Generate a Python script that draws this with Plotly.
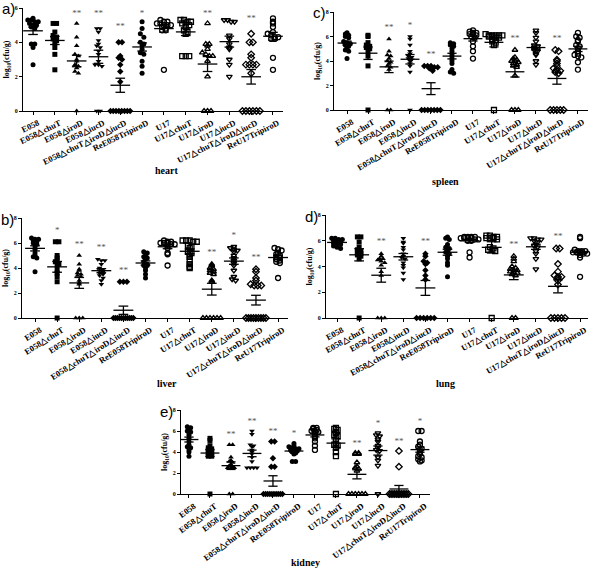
import numpy as np
import plotly.graph_objects as go

groups = ["E058", "E058△chuT", "E058△iroD", "E058△iucD", "E058△chuT△iroD△iucD",
          "ReE058TripiroD", "U17", "U17△chuT", "U17△iroD", "U17△iucD",
          "U17△chuT△iroD△iucD", "ReU17TripiroD"]

symbols = ["circle", "square", "triangle-up", "triangle-down", "diamond", "circle",
           "circle-open", "square-open", "triangle-up-open", "triangle-down-open",
           "diamond-open", "circle-open"]

heart = [
    [5.4, 5.3, 5.3, 5.2, 5.2, 5.1, 5.0, 5.0, 4.9, 4.8, 3.9, 3.9, 3.7, 2.7],
    [5.1, 5.1, 4.6, 4.4, 4.3, 4.2, 4.1, 4.0, 3.7, 3.3, 2.4],
    [5.1, 4.3, 3.8, 3.3, 3.2, 3.0, 2.9, 2.7, 2.6, 2.5, 2.3, 2.2, 0],
    [4.8, 4.8, 4.6, 4.1, 3.9, 3.8, 3.7, 3.5, 3.3, 2.9, 2.7, 2.7, 2.6, 0, 0],
    [4.0, 4.0, 3.2, 3.1, 3.0, 2.7, 2.3, 1.7, 0, 0, 0, 0, 0, 0, 0, 0],
    [5.2, 4.8, 4.5, 4.3, 4.0, 3.9, 3.8, 3.6, 3.4, 3.3, 2.9, 2.6, 2.2],
    [5.3, 5.2, 5.2, 5.1, 5.1, 5.0, 5.0, 5.0, 4.9, 4.8, 4.7, 4.7, 2.4],
    [5.3, 5.3, 5.2, 5.2, 5.1, 5.1, 5.0, 4.9, 4.7, 4.6, 4.5, 3.2, 3.2, 3.2],
    [5.1, 3.9, 3.9, 3.8, 3.6, 3.4, 3.3, 3.2, 3.2, 2.9, 2.0, 0, 0, 0],
    [5.3, 5.3, 5.2, 5.2, 4.4, 4.2, 3.9, 3.7, 3.6, 3.0, 2.7, 2.0],
    [4.5, 4.0, 4.0, 3.3, 3.1, 2.7, 2.7, 2.7, 2.7, 2.2, 0, 0, 0, 0, 0, 0],
    [5.4, 5.2, 5.1, 4.9, 4.6, 4.5, 4.4, 4.3, 4.3, 4.2, 4.2, 3.1, 2.4],
]
heart_stars = ["", "", "**", "**", "**", "*", "", "", "**", "", "**", ""]

liver = [
    [6.4, 6.3, 6.3, 6.2, 6.1, 6.0, 5.9, 5.7, 5.5, 5.2, 5.0, 4.9, 4.8, 3.7],
    [6.1, 6.1, 5.0, 4.8, 4.6, 4.5, 4.3, 4.2, 3.8, 3.6, 3.3, 2.9, 0],
    [5.0, 4.3, 3.9, 3.8, 3.6, 3.5, 3.4, 3.3, 3.0, 2.8, 2.7, 0, 0, 0],
    [4.7, 4.6, 4.6, 4.3, 4.0, 3.9, 3.8, 3.7, 3.6, 3.5, 3.4, 3.2, 3.0, 2.7],
    [2.9, 2.9, 2.9, 0, 0, 0, 0, 0, 0, 0, 0, 0, 0, 0],
    [5.3, 5.2, 5.0, 4.9, 4.8, 4.7, 4.5, 4.3, 4.2, 4.2, 4.0, 3.8, 3.5, 3.2],
    [6.2, 6.1, 6.1, 6.0, 6.0, 6.0, 5.9, 5.9, 5.8, 5.6, 5.2, 5.1, 4.2],
    [6.2, 6.2, 6.2, 6.1, 6.1, 5.8, 5.7, 5.6, 5.3, 5.2, 5.1, 4.9, 4.6, 4.3, 4.1, 4.0],
    [4.3, 4.2, 4.0, 3.9, 3.8, 3.7, 3.6, 3.5, 3.0, 2.9, 0, 0, 0, 0, 0, 0],
    [5.7, 5.6, 5.5, 5.4, 5.3, 5.0, 4.8, 4.6, 4.4, 4.2, 3.8, 3.3, 3.1, 3.0],
    [3.9, 3.7, 3.2, 3.0, 2.7, 2.6, 2.6, 2.6, 0, 0, 0, 0, 0, 0, 0, 0, 0],
    [5.6, 5.5, 5.4, 5.2, 5.1, 5.0, 4.9, 4.8, 4.7, 4.6, 4.5, 4.4, 3.2],
]
liver_stars = ["", "*", "**", "**", "**", "", "", "", "**", "*", "**", ""]

spleen = [
    [6.3, 6.2, 6.1, 6.0, 5.9, 5.6, 5.5, 5.4, 5.3, 5.2, 5.1, 4.9, 4.8, 4.2],
    [6.1, 6.0, 5.5, 5.3, 5.2, 5.1, 5.0, 4.8, 4.4, 3.6, 0],
    [5.8, 4.8, 4.5, 4.4, 4.2, 4.0, 3.9, 3.8, 3.6, 3.5, 3.3, 0, 0],
    [6.0, 5.8, 5.3, 4.8, 4.6, 4.4, 4.3, 4.2, 4.1, 4.0, 3.8, 3.6, 3.1, 0],
    [3.6, 3.6, 3.6, 3.5, 3.5, 3.4, 3.2, 0, 0, 0, 0, 0, 0, 0],
    [5.5, 5.4, 5.3, 5.2, 5.0, 4.8, 4.6, 4.4, 4.2, 4.0, 3.8, 3.3, 3.1, 3.0],
    [6.5, 6.4, 6.3, 6.3, 6.2, 6.2, 6.1, 6.0, 5.9, 5.6, 5.2, 4.8, 4.2],
    [6.2, 6.1, 6.1, 6.1, 6.1, 6.1, 6.0, 6.0, 5.9, 5.9, 5.8, 5.7, 5.6, 5.5, 5.3, 0],
    [4.9, 4.3, 4.2, 4.1, 4.0, 4.0, 3.9, 3.8, 3.7, 3.6, 3.5, 2.8, 0, 0, 0],
    [6.5, 6.3, 5.9, 5.6, 5.3, 5.2, 5.1, 5.0, 4.9, 4.8, 4.6, 4.5, 4.0, 3.7],
    [4.9, 4.8, 4.1, 4.0, 3.8, 3.6, 3.4, 3.3, 3.2, 3.1, 3.0, 0, 0, 0, 0, 0],
    [6.3, 6.0, 5.9, 5.7, 5.6, 5.3, 5.2, 5.0, 4.8, 4.6, 4.5, 4.4, 4.3, 3.9, 3.3],
]
spleen_stars = ["", "", "**", "*", "**", "", "", "", "**", "", "**", ""]

lung = [
    [6.2, 6.2, 6.1, 6.1, 6.0, 6.0, 5.9, 5.8, 5.8, 5.7, 5.6, 5.5, 5.4],
    [6.3, 6.3, 5.9, 5.5, 5.3, 5.2, 5.1, 5.0, 4.9, 4.8, 4.6, 0],
    [5.0, 4.8, 4.6, 4.6, 4.5, 4.4, 4.3, 4.1, 3.6, 3.3, 0, 0, 0],
    [6.2, 5.9, 5.8, 5.5, 5.3, 5.0, 4.8, 4.7, 4.6, 4.3, 4.1, 3.9, 3.5, 3.0],
    [5.0, 4.8, 4.4, 4.3, 4.2, 3.7, 3.3, 3.0, 0, 0, 0, 0, 0, 0],
    [6.3, 6.2, 6.1, 5.7, 5.5, 5.4, 5.2, 5.1, 5.0, 4.8, 4.6, 4.3, 4.1, 3.2],
    [6.3, 6.3, 6.3, 6.3, 6.2, 6.2, 6.2, 6.2, 6.1, 6.1, 6.0, 6.0, 5.1, 4.7],
    [6.4, 6.4, 6.3, 6.3, 6.2, 6.2, 6.2, 6.1, 5.5, 5.4, 5.3, 5.3, 5.2, 0],
    [4.8, 4.6, 4.4, 4.0, 3.9, 3.8, 3.7, 3.7, 3.6, 3.5, 3.5, 3.4, 3.3, 0, 0],
    [6.2, 6.2, 6.1, 6.1, 6.0, 5.9, 5.7, 5.6, 5.5, 5.2, 5.0, 4.6, 3.8],
    [5.4, 5.4, 4.2, 3.6, 3.3, 3.2, 3.2, 3.1, 2.9, 2.6, 0, 0, 0, 0, 0],
    [6.3, 6.2, 5.3, 5.2, 5.2, 5.2, 5.1, 5.1, 5.1, 5.0, 5.0, 4.9, 4.7, 3.2],
]
lung_stars = ["", "", "**", "", "**", "", "", "", "**", "", "**", ""]

kidney = [
    [6.4, 6.3, 6.1, 6.0, 5.9, 5.8, 5.6, 5.3, 5.0, 4.7, 4.5, 4.4, 4.2, 4.0, 3.6],
    [5.3, 5.1, 4.6, 4.4, 4.3, 4.2, 4.1, 4.0, 3.9, 3.8, 3.7, 3.6, 3.6, 0],
    [4.7, 4.7, 3.5, 3.2, 3.1, 3.0, 2.8, 2.7, 2.6, 2.5, 2.5, 2.5, 0, 0],
    [6.0, 5.7, 4.7, 4.6, 4.5, 4.2, 4.0, 3.8, 3.5, 3.1, 2.5, 2.5, 2.5, 2.5],
    [5.0, 5.0, 3.4, 2.6, 2.6, 0, 0, 0, 0, 0, 0, 0, 0, 0, 0],
    [4.8, 4.6, 4.5, 4.4, 4.3, 4.3, 4.2, 4.2, 4.1, 4.0, 3.9, 3.8, 3.1, 3.1],
    [6.3, 6.3, 6.2, 6.1, 6.0, 6.0, 5.9, 5.7, 5.5, 5.3, 5.0, 4.6, 4.2],
    [6.3, 6.2, 6.1, 5.9, 5.8, 5.6, 5.5, 5.2, 4.8, 4.7, 4.6, 4.4, 4.0, 3.6, 0],
    [3.9, 3.9, 3.8, 3.8, 3.0, 2.6, 2.5, 2.4, 2.2, 0, 0, 0, 0, 0, 0],
    [5.8, 5.6, 5.5, 5.2, 5.0, 4.6, 4.4, 4.2, 4.1, 3.5, 3.2, 2.7, 0],
    [4.1, 2.6, 0, 0, 0, 0, 0, 0, 0, 0, 0, 0, 0, 0],
    [6.0, 6.0, 5.0, 4.7, 4.5, 4.3, 4.2, 4.0, 3.8, 3.6, 3.5, 3.3, 3.2, 3.1],
]
kidney_stars = ["", "", "**", "**", "**", "*", "", "", "**", "*", "**", "*"]

# panel: name, letter, data, stars, y max, pixel box (left, right, top, bottom),
#        x range, title y (px), tick label angle
panels = [
    ("heart", "a)", heart, heart_stars, 6, (23, 283, 8, 111), (-0.46, 11.46), 170, -26),
    ("liver", "b)", liver, liver_stars, 8, (22, 288, 218, 318), (-0.59, 11.45), 383, -32),
    ("spleen", "c)", spleen, spleen_stars, 8, (334, 588, 12, 110), (-0.62, 11.48), 181, -31),
    ("lung", "d)", lung, lung_stars, 8, (326, 588, 215, 318), (-0.5, 11.36), 383, -29),
    ("kidney", "e)", kidney, kidney_stars, 8, (181, 430, 410, 494), (-0.38, 11.48), 562, -36),
]

W, H = 600, 572
serif = "Liberation Serif"


def spread(vals, step=0.16, binw=0.22):
    # horizontal offsets so that close values sit side by side
    vals = np.asarray(vals, dtype=float)
    offs = np.zeros(len(vals))
    keys = np.round(vals / binw).astype(int)
    for k in np.unique(keys):
        idx = np.where(keys == k)[0]
        n = len(idx)
        s = min(step, 0.9 / max(n - 1, 1))
        offs[idx] = (np.arange(n) - (n - 1) / 2) * s
    return offs


fig = go.Figure()
layout = {}
annotations = []

for p, (name, letter, data, stars, ymax, box, xr, title_y, angle) in enumerate(panels):
    left, right, top, bottom = box
    xa = "x" if p == 0 else f"x{p + 1}"
    ya = "y" if p == 0 else f"y{p + 1}"
    xkey = "xaxis" if p == 0 else f"xaxis{p + 1}"
    ykey = "yaxis" if p == 0 else f"yaxis{p + 1}"

    for g, vals in enumerate(data):
        vals = np.asarray(vals, dtype=float)
        offs = spread(vals)
        sym = symbols[g]
        is_open = sym.endswith("-open")
        fig.add_trace(go.Scatter(
            x=g + offs, y=vals, xaxis=xa, yaxis=ya, mode="markers",
            marker=dict(symbol=sym, size=5, color="black",
                        line=dict(color="black", width=1.3 if is_open else 0)),
            cliponaxis=False, showlegend=False, hoverinfo="skip"))

        m = vals.mean()
        sem = vals.std(ddof=1) / np.sqrt(len(vals))
        fig.add_trace(go.Scatter(
            x=[g - 0.45, g + 0.45, None, g, g, None, g - 0.22, g + 0.22, None, g - 0.22, g + 0.22],
            y=[m, m, None, m - sem, m + sem, None, m - sem, m - sem, None, m + sem, m + sem],
            xaxis=xa, yaxis=ya, mode="lines", line=dict(color="black", width=1.3),
            cliponaxis=False, showlegend=False, hoverinfo="skip"))

    sx, sy, st = [], [], []
    for g, s in enumerate(stars):
        if s:
            sx.append(g)
            sy.append(min(max(data[g]) + 0.9, ymax - 0.35))
            st.append(s)
    fig.add_trace(go.Scatter(
        x=sx, y=sy, text=st, mode="text", xaxis=xa, yaxis=ya,
        textfont=dict(family=serif, size=9, color="#555555"),
        cliponaxis=False, showlegend=False, hoverinfo="skip"))

    layout[xkey] = dict(
        domain=[left / W, right / W], anchor=ya, range=list(xr), automargin=False,
        tickmode="array", tickvals=list(range(len(groups))), ticktext=groups,
        tickangle=angle, ticklabelshift=5,
        tickfont=dict(family=serif, size=8.5, color="black", weight="bold"),
        showline=True, linecolor="black", linewidth=1, ticks="outside", ticklen=3,
        tickcolor="black", showgrid=False, zeroline=False, fixedrange=True)
    layout[ykey] = dict(
        domain=[1 - bottom / H, 1 - top / H], anchor=xa, range=[0, ymax], automargin=False,
        tickvals=list(range(0, ymax + 1, 2)),
        tickfont=dict(family=serif, size=6, color="black", weight="bold"),
        title=dict(text="log<sub>10</sub>(cfu/g)", standoff=3,
                   font=dict(family=serif, size=8, color="black", weight="bold")),
        showline=True, linecolor="black", linewidth=1, ticks="outside", ticklen=3,
        tickcolor="black", showgrid=False, zeroline=False, fixedrange=True)

    annotations.append(dict(
        x=(left - 23) / W, y=1 - (top + 1) / H, xref="paper", yref="paper",
        text=letter, showarrow=False, xanchor="left", yanchor="middle",
        font=dict(family="Liberation Sans", size=15, color="black")))
    annotations.append(dict(
        x=(left + right) / 2 / W, y=1 - title_y / H, xref="paper", yref="paper",
        text=name, showarrow=False, yanchor="middle",
        font=dict(family=serif, size=10, color="black", weight="bold")))

fig.update_layout(
    template="none", width=W, height=H, margin=dict(l=0, r=0, t=0, b=0),
    paper_bgcolor="white", plot_bgcolor="white",
    annotations=annotations, **layout)

# the page body has a default 8px margin; drop it so the figure sits at 0,0
fig.write_html("out.html", config={"displayModeBar": False},
               post_script="document.body.style.margin='0';")
